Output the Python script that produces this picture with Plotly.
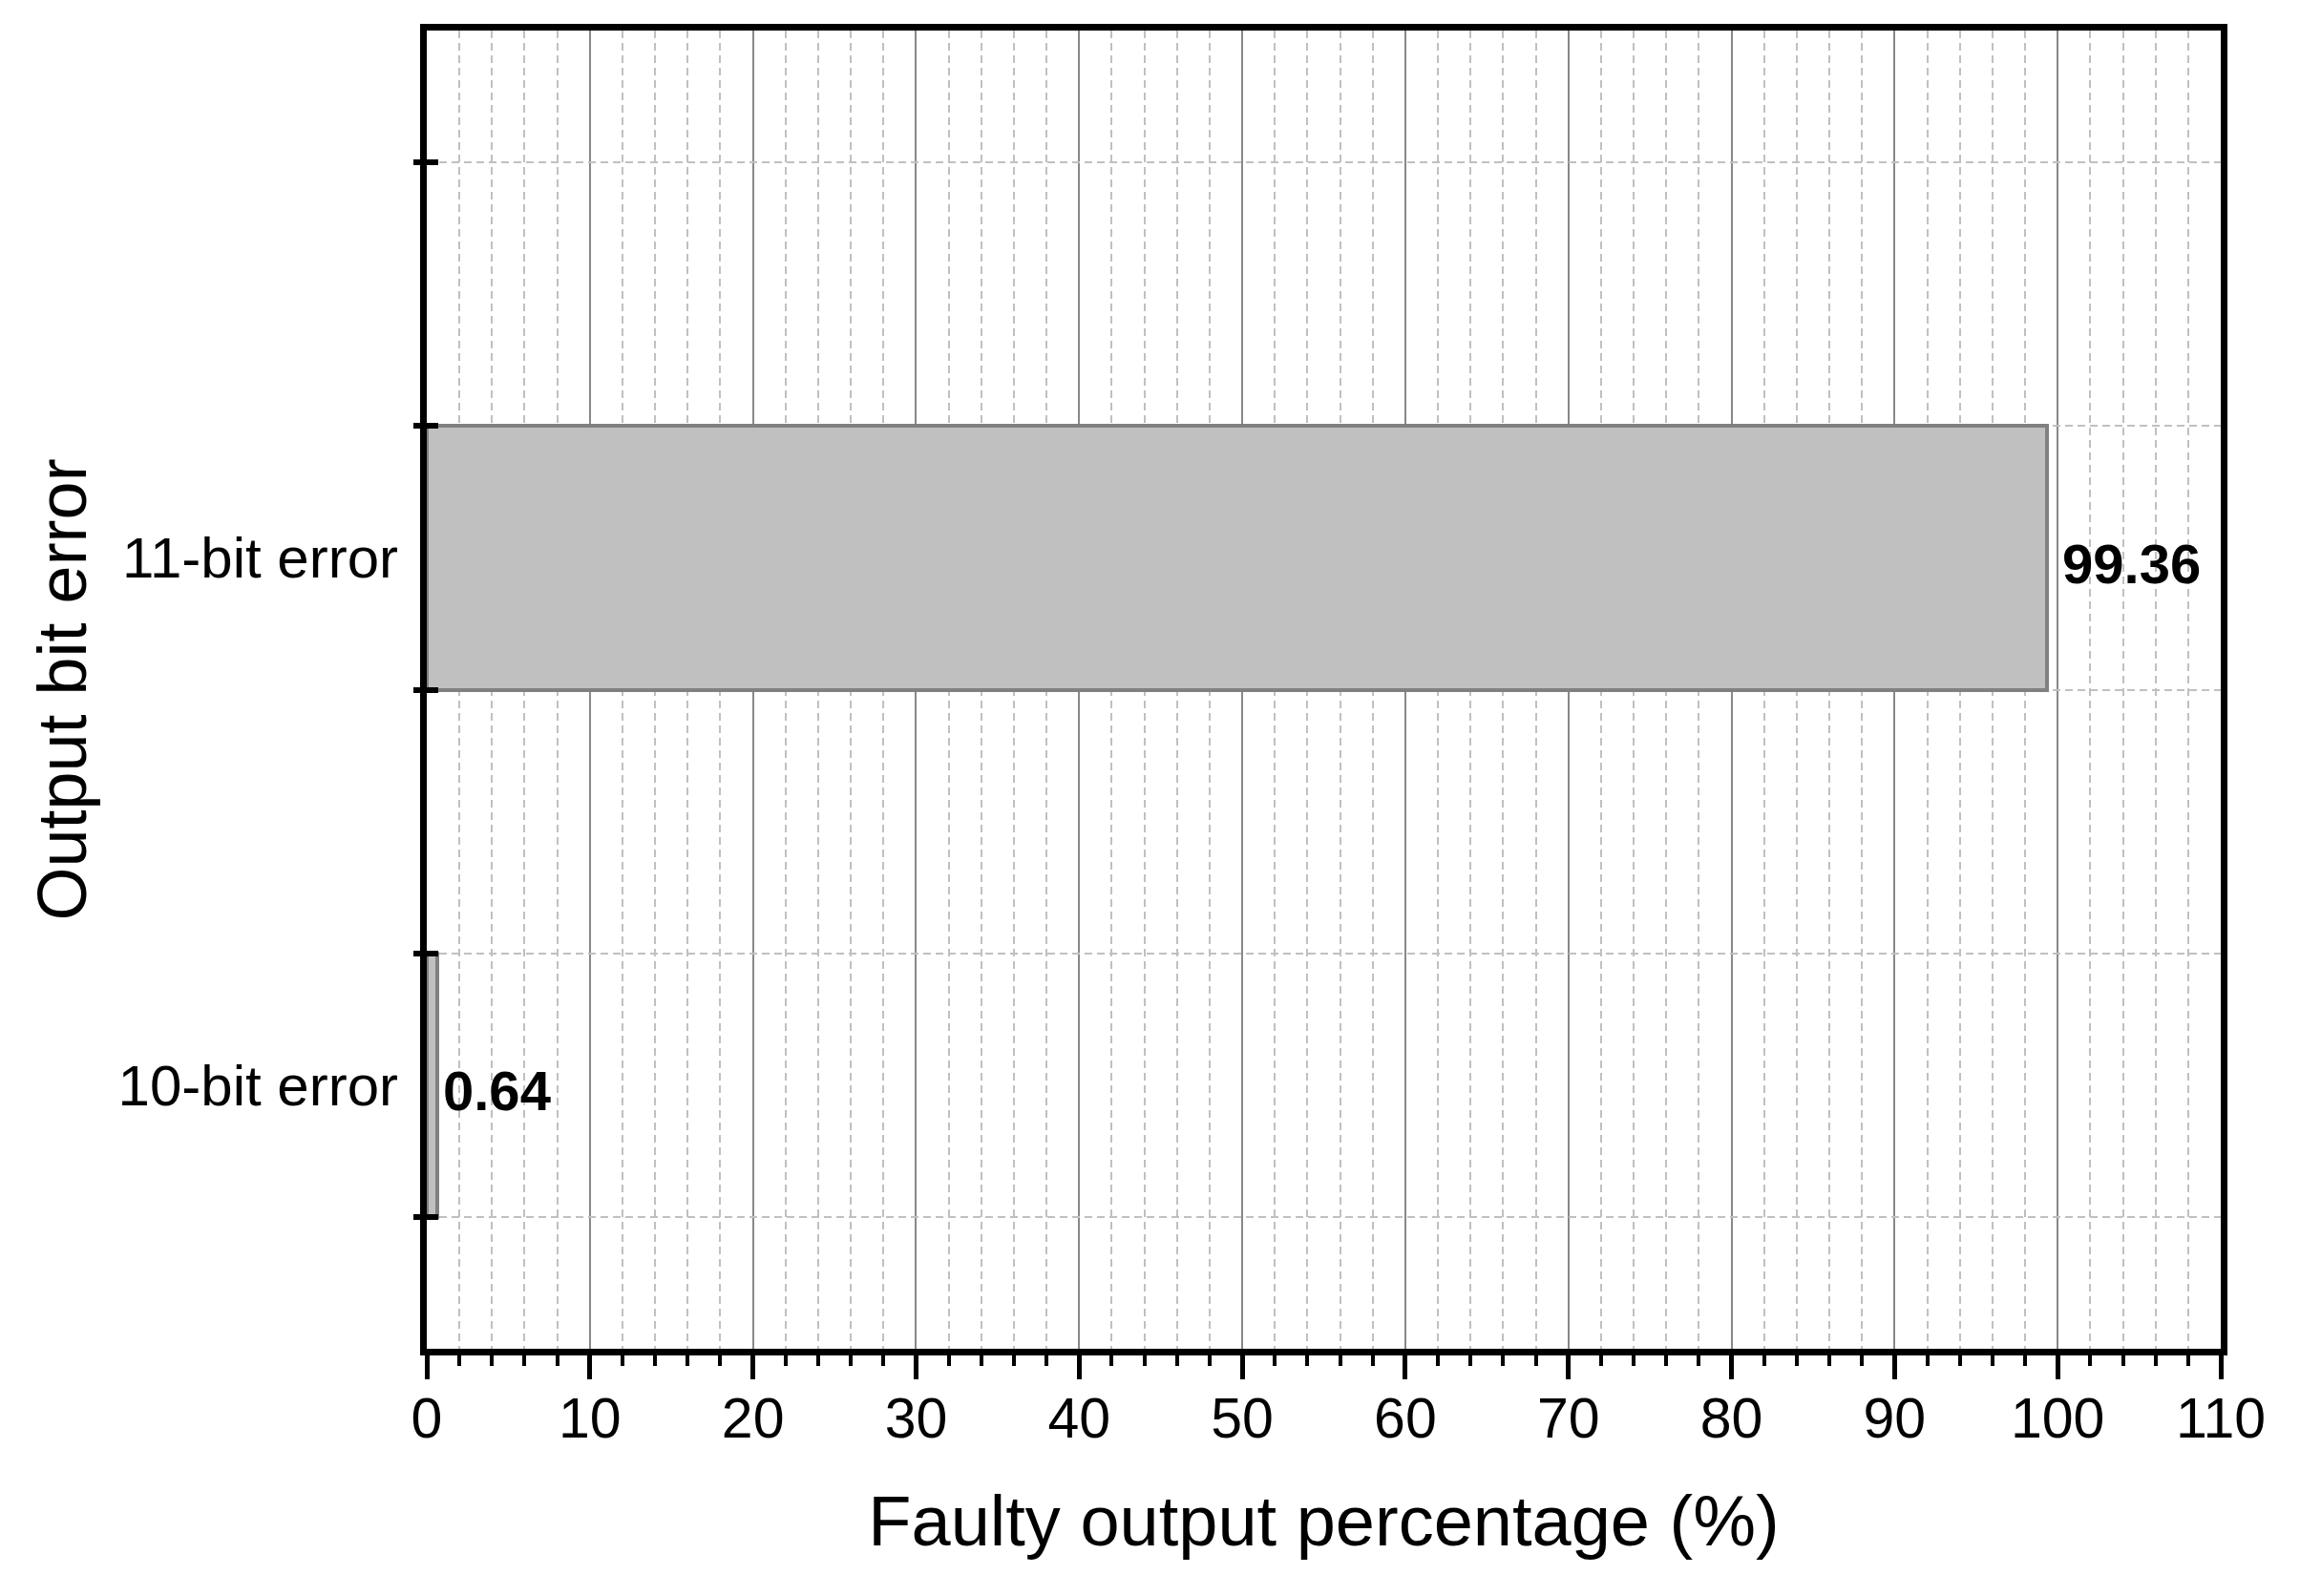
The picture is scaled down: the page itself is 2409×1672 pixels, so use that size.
import plotly.graph_objects as go

categories = ["10-bit error", "11-bit error"]
values = [0.64, 99.36]
value_labels = ["0.64", "99.36"]
x_tick_vals = list(range(0, 111, 10))
y_edge_ticks = [0.75, 1.25, 1.75, 2.25, 2.75]
y_positions = [i + 1 for i in range(len(categories))]

# label offsets from bar ends (style, px)
label_xshift = [4, 14]

FONT = "Liberation Sans, Arial, sans-serif"

fig = go.Figure()
fig.add_trace(go.Bar(
    x=values, y=y_positions, orientation="h", width=0.5,
    marker=dict(color="#c0c0c0", line=dict(color="#808080", width=4)),
    showlegend=False, hoverinfo="skip",
))

# value labels next to bar ends
for xv, yv, lab, dx in zip(values, y_positions, value_labels, label_xshift):
    fig.add_annotation(
        x=xv, y=yv, xref="x", yref="y", text=f"<b>{lab}</b>",
        showarrow=False, xanchor="left", yanchor="middle",
        xshift=dx, yshift=-6,
        font=dict(family=FONT, size=58, color="black"),
    )

fig.update_layout(
    width=2409, height=1672,
    margin=dict(l=439, r=91, t=24, b=267),
    plot_bgcolor="white", paper_bgcolor="white",
    font=dict(family=FONT, color="black"),
    bargap=0,
    xaxis=dict(
        range=[0, 110], tickvals=x_tick_vals,
        ticks="outside", ticklen=25, tickwidth=5, tickcolor="black",
        showline=True, linewidth=7, linecolor="black", mirror=True,
        showgrid=True, gridcolor="#888888", gridwidth=2,
        zeroline=False,
        tickfont=dict(size=59, family=FONT, color="black"),
        ticklabelstandoff=-10,
        title=dict(text="Faulty output percentage (%)", font=dict(size=74, family=FONT, color="black"), standoff=52),
        minor=dict(dtick=2, ticks="outside", ticklen=11, tickwidth=4, tickcolor="black",
                   showgrid=True, gridcolor="#c0c0c0", gridwidth=2, griddash="8px,5px"),
    ),
    yaxis=dict(
        range=[0.5, 3.0], tickvals=y_positions, ticktext=categories,
        ticks="", showgrid=False, zeroline=False,
        showline=True, linewidth=7, linecolor="black", mirror=True,
        tickfont=dict(size=60, family=FONT, color="black"),
        ticklabelstandoff=11,
        title=dict(text="Output bit error", font=dict(size=72, family=FONT, color="black"), standoff=12),
    ),
    yaxis2=dict(
        overlaying="y", anchor="x", side="left", matches="y",
        tickvals=y_edge_ticks, showticklabels=False,
        ticks="outside", ticklen=13, tickwidth=6, tickcolor="black",
        showgrid=True, gridcolor="#c0c0c0", gridwidth=2, griddash="8px,5px",
        zeroline=False, showline=False,
    ),
    yaxis3=dict(
        overlaying="y", anchor="x", side="left", matches="y",
        tickvals=y_edge_ticks, showticklabels=False,
        ticks="inside", ticklen=12, tickwidth=6, tickcolor="black",
        showgrid=False, zeroline=False, showline=False,
    ),
)

# invisible helpers so the overlay axes are drawn
fig.add_trace(go.Scatter(x=[0], y=[1], yaxis="y2", mode="markers", marker=dict(opacity=0), showlegend=False, hoverinfo="skip"))
fig.add_trace(go.Scatter(x=[0], y=[1], yaxis="y3", mode="markers", marker=dict(opacity=0), showlegend=False, hoverinfo="skip"))

fig.write_html("out.html")
